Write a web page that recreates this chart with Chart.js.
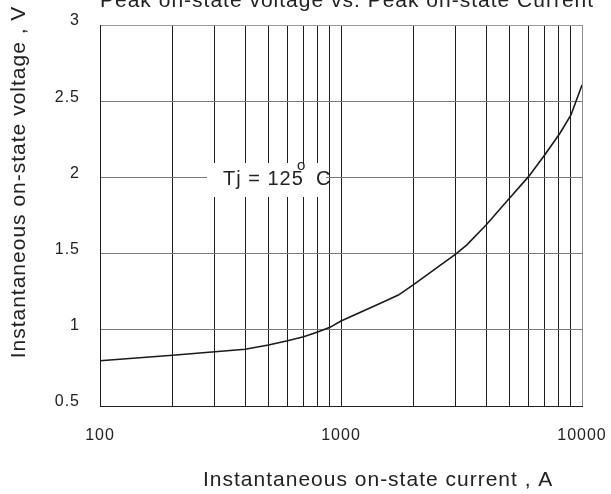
<!DOCTYPE html>
<html><head><meta charset="utf-8">
<script src="https://cdn.jsdelivr.net/npm/chart.js@4.4.0/dist/chart.umd.min.js"></script>
<style>html,body{margin:0;padding:0;background:#fff;overflow:hidden}</style>
</head><body>
<canvas id="c" width="611" height="494" style="display:block;width:611px;height:494px"></canvas>
<script>
// ---- data ----
const currentA = [100, 200, 300, 400, 500, 600, 700, 800, 900, 1000, 1450, 1730, 2000, 3000, 3320, 4000, 5000, 6000, 7000, 8100, 9000, 10000];
const voltageV = [0.797, 0.833, 0.856, 0.872, 0.900, 0.928, 0.955, 0.986, 1.016, 1.058, 1.172, 1.228, 1.297, 1.498, 1.556, 1.688, 1.863, 2.005, 2.147, 2.290, 2.410, 2.606];
const yTicks = [0.5, 1, 1.5, 2, 2.5, 3];
const xLabelTicks = [100, 1000, 10000];
const chartTitle = 'Peak on-state voltage vs. Peak on-state Current';
const xTitle = 'Instantaneous on-state current , A';
const yTitle = 'Instantaneous on-state voltage , V';
const noteMain = 'Tj = 125';
const noteDeg = 'o';
const noteUnit = 'C';

// log grid: 1..9 within each decade
const gridTicks = [];
for (let d = 0; d < xLabelTicks.length - 1; d++) {
  for (let m = 1; m <= 9; m++) gridTicks.push(xLabelTicks[d] * m);
}
gridTicks.push(xLabelTicks[xLabelTicks.length - 1]);

const FONT = '"Liberation Sans", Arial, Helvetica, sans-serif';
const TXT = '#222';

function noPad(s) { s.paddingLeft = 0; s.paddingRight = 0; s.paddingTop = 0; s.paddingBottom = 0; }

const textPlugin = {
  id: 'texts',
  beforeDraw(chart) { chart.ctx.letterSpacing = '1px'; },
  beforeDatasetsDraw(chart) {
    const ctx = chart.ctx;
    ctx.save();
    ctx.fillStyle = '#fff';
    ctx.fillRect(207, 163, 119, 34);
    ctx.fillStyle = TXT;
    ctx.textAlign = 'left';
    ctx.textBaseline = 'alphabetic';
    ctx.font = '20px ' + FONT;
    ctx.fillText(noteMain, 223, 185);
    ctx.font = '15px ' + FONT;
    ctx.fillText(noteDeg, 297, 170);
    ctx.font = '20px ' + FONT;
    ctx.fillText(noteUnit, 316, 185);
    ctx.restore();
  },
  afterDraw(chart) {
    const ctx = chart.ctx;
    ctx.save();
    ctx.fillStyle = TXT;
    ctx.font = '21px ' + FONT;
    ctx.textBaseline = 'alphabetic';
    ctx.textAlign = 'left';
    ctx.fillText(chartTitle, 100, 7);
    ctx.fillText(xTitle, 203, 486);
    ctx.translate(25, 182);
    ctx.rotate(-Math.PI / 2);
    ctx.textAlign = 'center';
    ctx.fillText(yTitle, 0, 0);
    ctx.restore();
  }
};

new Chart(document.getElementById('c'), {
  type: 'line',
  data: {
    datasets: [{
      data: currentA.map((x, i) => ({ x: x, y: voltageV[i] })),
      borderColor: '#1a1a1a',
      borderWidth: 1.6,
      pointRadius: 0,
      tension: 0,
      fill: false
    }]
  },
  options: {
    responsive: false,
    animation: false,
    devicePixelRatio: 1,
    layout: { padding: { top: 25, right: 29, left: 0, bottom: 0 } },
    plugins: { legend: { display: false }, tooltip: { enabled: false }, title: { display: false } },
    scales: {
      x: {
        type: 'logarithmic',
        min: 100, max: 10000,
        afterBuildTicks: s => { s.ticks = gridTicks.map(v => ({ value: v })); },
        afterFit: s => { s.height = 88; noPad(s); },
        grid: {
          color: c => (c.tick && c.tick.value === 10000) ? '#8c8c8c' : '#1e1e1e',
          lineWidth: 1,
          drawTicks: false
        },
        border: { color: '#1e1e1e', width: 1 },
        ticks: {
          autoSkip: false, maxRotation: 0, minRotation: 0, padding: 20,
          color: TXT, font: { family: FONT, size: 16 },
          callback: v => xLabelTicks.includes(v) ? String(v) : ''
        }
      },
      y: {
        min: 0.5, max: 3,
        afterBuildTicks: s => { s.ticks = yTicks.map(v => ({ value: v })); },
        afterFit: s => { s.width = 100; noPad(s); },
        grid: {
          color: c => (c.tick && c.tick.value === 3) ? '#9a9a9a' : '#7a7a7a',
          lineWidth: 1, drawTicks: false
        },
        border: { color: '#1e1e1e', width: 1 },
        ticks: {
          padding: 20, color: TXT,
          font: { family: FONT, size: 16, lineHeight: '8px' },
          callback: v => [String(v), '']
        }
      }
    }
  },
  plugins: [textPlugin]
});
</script>
</body></html>
